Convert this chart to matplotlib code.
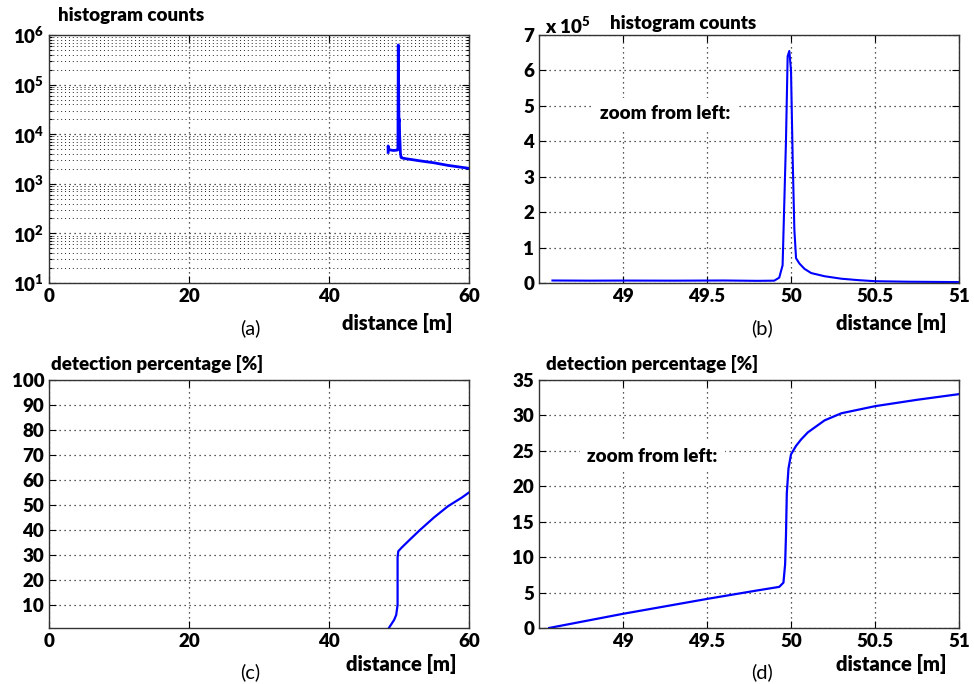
import matplotlib
matplotlib.use('Agg')
import matplotlib.pyplot as plt
from matplotlib.ticker import FixedLocator, LogLocator, NullFormatter

plt.rcParams['font.family'] = ['Lato', 'DejaVu Sans']
plt.rcParams['font.weight'] = 'heavy'
plt.rcParams['mathtext.fontset'] = 'custom'
plt.rcParams['mathtext.rm'] = 'Lato:weight=heavy'
plt.rcParams['mathtext.bf'] = 'Lato:weight=heavy'
plt.rcParams['mathtext.default'] = 'bf'

# (a) histogram counts, full range, log scale
hist_full_x = [48.45, 48.45, 48.5, 48.8, 49.2, 49.6, 49.8, 49.85, 49.9, 49.95, 50.0,
               50.05, 50.1, 50.15, 50.2, 50.3, 50.5, 51.0, 52.0, 53.0, 55.0, 57.0, 60.0]
hist_full_y = [4300, 5800, 4900, 4800, 4700, 4750, 4800, 5200, 630000, 60000, 18000,
               20000, 9000, 6500, 4200, 3400, 3300, 3200, 3050, 2900, 2650, 2350, 2050]

# (b) histogram counts, zoom
hist_zoom_x = [48.58, 48.8, 49.0, 49.3, 49.6, 49.8, 49.9, 49.93, 49.95, 49.97, 49.98,
               49.99, 50.0, 50.01, 50.02, 50.03, 50.05, 50.08, 50.12, 50.2, 50.3,
               50.4, 50.5, 50.7, 51.0]
hist_zoom_y = [7000, 6500, 6800, 6500, 7000, 6000, 6500, 15000, 50000, 400000, 640000,
               655000, 600000, 350000, 150000, 70000, 55000, 40000, 28000, 19000, 12000,
               8000, 5000, 3500, 2500]

# (c) detection percentage, full range
det_full_x = [48.6, 49.3, 49.6, 49.8, 49.8, 49.9, 50.4, 51.5, 53.0, 55.0, 57.0, 59.0, 60.0]
det_full_y = [1.0, 4.0, 6.0, 10.0, 29.0, 31.5, 33.0, 36.0, 40.0, 45.0, 49.5, 53.0, 55.0]

# (d) detection percentage, zoom
det_zoom_x = [48.56, 49.0, 49.5, 49.8, 49.93, 49.955, 49.965, 49.97, 49.975, 49.985,
              50.0, 50.03, 50.06, 50.1, 50.2, 50.3, 50.5, 50.75, 51.0]
det_zoom_y = [0.0, 2.0, 4.1, 5.3, 5.8, 6.4, 9.0, 13.0, 19.0, 22.5, 24.5, 25.7, 26.6,
              27.6, 29.3, 30.3, 31.3, 32.2, 33.0]

dist_ticks = [0, 20, 40, 60]
zoom_ticks = [49, 49.5, 50, 50.5, 51]
zoom_tick_labels = ['49', '49.5', '50', '50.5', '51']

blue = '#0000ff'
fs = 13.5

fig = plt.figure(figsize=(9.74, 6.84), dpi=100)
pos = {'a': [0.0503, 0.5863, 0.4312, 0.3625],
       'b': [0.5534, 0.5863, 0.4312, 0.3625],
       'c': [0.0503, 0.0819, 0.4312, 0.3626],
       'd': [0.5534, 0.0819, 0.4312, 0.3626]}
axes = {k: fig.add_axes(v) for k, v in pos.items()}


def style(ax):
    ax.tick_params(which='both', direction='in', top=True, right=True,
                   labelsize=fs, width=0.8)
    ax.tick_params(which='major', length=5)
    ax.tick_params(which='minor', length=2.5)
    for s in ax.spines.values():
        s.set_linewidth(1.0)
        s.set_color('#333333')
    ax.grid(True, which='major', linestyle=(0, (1, 3)), color='#222222', linewidth=0.9)


# (a)
ax = axes['a']
ax.plot(hist_full_x, hist_full_y, color=blue, lw=2.0)
ax.set_yscale('log')
ax.set_xlim(0, 60)
ax.set_ylim(10, 1e6)
ax.set_xticks(dist_ticks)
ax.yaxis.set_major_locator(FixedLocator([10, 100, 1e3, 1e4, 1e5, 1e6]))
ax.yaxis.set_minor_locator(LogLocator(base=10, subs=range(2, 10)))
ax.yaxis.set_minor_formatter(NullFormatter())
ax.set_yticklabels([r'$\mathbf{10^{%d}}$' % k for k in range(1, 7)])
style(ax)
ax.grid(True, which='minor', axis='y', linestyle=(0, (1, 3)), color='#222222',
        linewidth=0.7)

# (b)
ax = axes['b']
ax.plot(hist_zoom_x, hist_zoom_y, color=blue, lw=1.5)
ax.set_xlim(48.5, 51)
ax.set_ylim(0, 7e5)
ax.set_xticks(zoom_ticks)
ax.set_xticklabels(zoom_tick_labels)
ax.set_yticks([k * 1e5 for k in range(8)])
ax.set_yticklabels([str(k) for k in range(8)])
style(ax)
ax.text(0.015, 1.035, r'x 10$^{5}$', transform=ax.transAxes, fontsize=fs,
        va='center')
ax.text(0.17, 1.045, 'histogram counts', transform=ax.transAxes, fontsize=fs,
        va='center')
ax.text(0.145, 0.685, 'zoom from left:', transform=ax.transAxes, fontsize=fs,
        va='center', bbox=dict(facecolor='white', edgecolor='none', pad=5))

# (c)
ax = axes['c']
ax.plot(det_full_x, det_full_y, color=blue, lw=1.6)
ax.set_xlim(0, 60)
ax.set_ylim(0.8, 100)
ax.set_xticks(dist_ticks)
ax.set_yticks(range(10, 101, 10))
style(ax)

# (d)
ax = axes['d']
ax.plot(det_zoom_x, det_zoom_y, color=blue, lw=1.6)
ax.set_xlim(48.5, 51)
ax.set_ylim(0, 35)
ax.set_xticks(zoom_ticks)
ax.set_xticklabels(zoom_tick_labels)
ax.set_yticks(range(0, 36, 5))
style(ax)
ax.text(0.115, 0.69, 'zoom from left:', transform=ax.transAxes, fontsize=fs,
        va='center', bbox=dict(facecolor='white', edgecolor='none', pad=5))

# titles and labels
fig.text(58 / 974, 1 - 16 / 684, 'histogram counts', fontsize=fs, va='center')
fig.text(51 / 974, 1 - 364 / 684, 'detection percentage [%]', fontsize=fs,
         va='center')
fig.text(546 / 974, 1 - 364 / 684, 'detection percentage [%]', fontsize=fs,
         va='center')

for x_lbl, x_sub, y_row, y_sub, sub in [(397, 250, 323, 328, '(a)'),
                                         (891, 762, 323, 328, '(b)'),
                                         (401, 250, 664, 672, '(c)'),
                                         (891, 762, 664, 672, '(d)')]:
    fig.text(x_lbl / 974, 1 - y_row / 684, 'distance [m]', fontsize=fs + 1,
             ha='center', va='center')
    fig.text(x_sub / 974, 1 - y_sub / 684, sub, fontsize=fs + 1, fontweight='normal',
             ha='center', va='center')

fig.savefig('out.png', dpi=100)
